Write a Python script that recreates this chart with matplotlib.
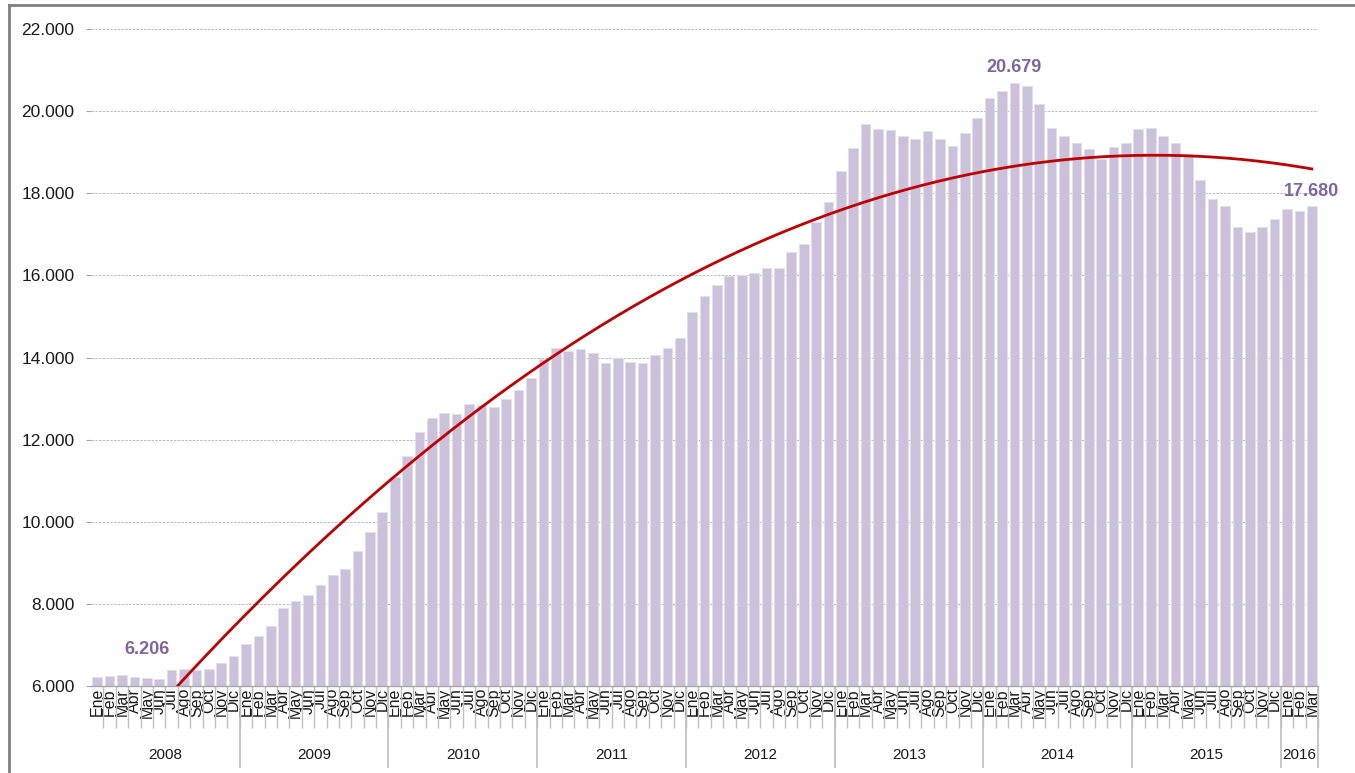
import numpy as np
import matplotlib
matplotlib.use("Agg")
from matplotlib import pyplot as plt
from matplotlib.lines import Line2D
from matplotlib.ticker import FuncFormatter, MultipleLocator

months = ["Ene", "Feb", "Mar", "Abr", "May", "Jun",
          "Jul", "Ago", "Sep", "Oct", "Nov", "Dic"]
years = ["2008", "2009", "2010", "2011", "2012", "2013", "2014", "2015", "2016"]
months_per_year = [12, 12, 12, 12, 12, 12, 12, 12, 3]

values_2008 = [6230, 6235, 6260, 6210, 6206, 6180, 6380, 6420, 6400, 6420, 6550, 6730]
values_2009 = [7030, 7230, 7470, 7890, 8080, 8210, 8470, 8700, 8860, 9280, 9740, 10250]
values_2010 = [11090, 11600, 12190, 12530, 12650, 12630, 12870, 12850, 12800, 12990, 13210, 13490]
values_2011 = [13960, 14235, 14155, 14210, 14120, 13870, 13985, 13880, 13870, 14070, 14235, 14480]
values_2012 = [15100, 15510, 15760, 15980, 16020, 16070, 16190, 16190, 16560, 16760, 17290, 17780]
values_2013 = [18547, 19091, 19683, 19562, 19537, 19391, 19318, 19505, 19318, 19156, 19464, 19821]
values_2014 = [20310, 20480, 20679, 20600, 20170, 19580, 19390, 19234, 19071, 18844, 19136, 19226]
values_2015 = [19570, 19590, 19396, 19226, 18966, 18333, 17870, 17680, 17170, 17050, 17190, 17380]
values_2016 = [17610, 17560, 17680]

# labelled points: (month index, text, offset in points)
labelled = [(4, "6.206", (0, 20)), (74, "20.679", (0, 11)), (98, "17.680", (0, 11))]

values = np.array(values_2008 + values_2009 + values_2010 + values_2011 + values_2012
                  + values_2013 + values_2014 + values_2015 + values_2016, dtype=float)
x = np.arange(len(values))
month_labels = [months[i % 12] for i in x]

bar_color = "#CCC1DA"
trend_color = "#C00000"
label_color = "#8064A2"

fig = plt.figure(figsize=(13.55, 7.73), dpi=100)
axis = fig.add_axes([0.0672, 0.1125, 0.9055, 0.85])

axis.bar(x, values, width=0.78, color=bar_color, edgecolor="#E4DDEC", linewidth=0.6, zorder=2)

# second order polynomial trend line
coef = np.polyfit(x, values, 2)
xs = np.linspace(x[0], x[-1], 400)
axis.plot(xs, np.polyval(coef, xs), color=trend_color, linewidth=2.0, zorder=3)

for idx, text, offset in labelled:
    axis.annotate(text, xy=(idx, values[idx]), xytext=offset, textcoords="offset points",
                  ha="center", va="center", fontsize=13, fontweight="bold",
                  color=label_color, family="Liberation Sans")

axis.set_xlim(-0.5, len(values) - 0.5)
axis.set_ylim(6000, 22000)
axis.yaxis.set_major_locator(MultipleLocator(2000))
axis.yaxis.set_major_formatter(FuncFormatter(lambda v, _: "{:,.0f}".format(v).replace(",", ".")))
axis.grid(axis="y", color="#B0B0B0", linewidth=0.6, linestyle=(0, (3, 1.5)), zorder=0)
axis.tick_params(axis="y", length=3.6, width=0.8, color="#A6A6A6", pad=8.5,
                 labelsize=12.5, labelcolor="#1A1A1A")
for lab in axis.get_yticklabels():
    lab.set_family("Liberation Sans")

axis.set_xticks(x)
axis.set_xticklabels(month_labels, rotation=90, fontsize=11.5, family="Liberation Sans",
                     va="top", color="#1A1A1A")
axis.tick_params(axis="x", length=0, pad=1.5)

for side in ["top", "right", "left"]:
    axis.spines[side].set_visible(False)
axis.spines["bottom"].set_color("#A6A6A6")
axis.spines["bottom"].set_linewidth(1.0)

# month and year separators under the axis
trans = axis.get_xaxis_transform()
bounds = np.arange(len(values) + 1) - 0.5
axis.vlines(bounds[1:], -0.064, 0, transform=trans, color="#BFBFBF", linewidth=1.0, clip_on=False)
edges = np.concatenate([[0], np.cumsum(months_per_year)]) - 0.5
axis.vlines(edges[1:], -0.125, 0, transform=trans, color="#BFBFBF", linewidth=1.2, clip_on=False)
for year, left, right in zip(years, edges[:-1], edges[1:]):
    axis.text((left + right) / 2, -0.105, year, transform=trans, ha="center", va="center",
              fontsize=11, family="Liberation Sans", color="#1A1A1A")

# outer frame
fig.add_artist(Line2D([9 / 1355, 9 / 1355], [0, 1 - 5 / 773], transform=fig.transFigure,
                      color="#808080", linewidth=2))
fig.add_artist(Line2D([9 / 1355, 1], [1 - 5 / 773, 1 - 5 / 773], transform=fig.transFigure,
                      color="#808080", linewidth=2))

fig.savefig("out.png", dpi=100)
